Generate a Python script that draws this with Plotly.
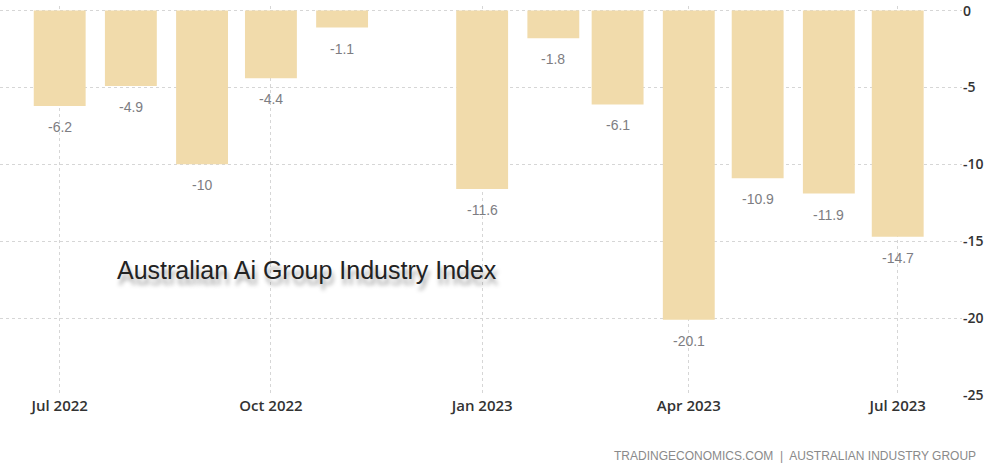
import plotly.graph_objects as go

months = ["2022-07-01", "2022-08-01", "2022-09-01", "2022-10-01", "2022-11-01",
          "2022-12-01", "2023-01-01", "2023-02-01", "2023-03-01", "2023-04-01",
          "2023-05-01", "2023-06-01", "2023-07-01"]
values = [-6.2, -4.9, -10, -4.4, -1.1, None, -11.6, -1.8, -6.1, -20.1, -10.9, -11.9, -14.7]
tick_dates = ["2022-07-01", "2022-10-01", "2023-01-01", "2023-04-01", "2023-07-01"]
tick_labels = ["Jul 2022", "Oct 2022", "Jan 2023", "Apr 2023", "Jul 2023"]
y_ticks = [0, -5, -10, -15, -20, -25]

DAY_MS = 86400000
fig = go.Figure()
fig.add_trace(go.Bar(
    x=months, y=values,
    marker=dict(color="#f1dbab", line=dict(width=0)),
    width=22.6 * DAY_MS,
    hoverinfo="x+y",
))

annotations = []
for m, v in zip(months, values):
    if v is None:
        continue
    annotations.append(dict(
        x=m, y=v, xref="x", yref="y", text=f"{v:g}", showarrow=False,
        yshift=-21, font=dict(family="Liberation Sans, Arial", size=14, color="#7d7d82"),
    ))

TOP = 6
PLOT_H = 473 - 78 - TOP
annotations.append(dict(
    x=307 / 962, y=1 - (270 - TOP) / PLOT_H, xref="paper", yref="paper",
    text="Australian Ai Group Industry Index", showarrow=False,
    xanchor="center", yanchor="middle",
    font=dict(family="Liberation Sans, Arial", size=25, color="#222222",
              shadow="2px 6px 4px rgba(0,0,0,0.35)"),
))
annotations.append(dict(
    x=978 / 962, y=-(456 - 395) / PLOT_H, xref="paper", yref="paper",
    text="TRADINGECONOMICS.COM  |  AUSTRALIAN INDUSTRY GROUP", showarrow=False,
    xanchor="right", yanchor="middle",
    font=dict(family="Liberation Sans, Arial", size=12, color="#8a8a8a"),
))

fig.update_layout(
    width=1004, height=473,
    margin=dict(l=0, r=42, t=TOP, b=78, autoexpand=False),
    paper_bgcolor="white", plot_bgcolor="white",
    showlegend=False,
    annotations=annotations,
    xaxis=dict(
        type="date", automargin=False,
        range=["2022-06-05", "2023-07-29"],
        tickvals=tick_dates, ticktext=tick_labels,
        showgrid=True, gridcolor="#d6d6d6", griddash="dot", gridwidth=1,
        showline=False, zeroline=False, ticks="",
        tickfont=dict(family="Open Sans", size=15, color="#333333", weight=600),
    ),
    yaxis=dict(
        side="right", range=[-25.0, 0.3], automargin=False,
        tickvals=y_ticks, ticktext=[str(t) for t in y_ticks],
        ticklabeloverflow="allow",
        showgrid=True, gridcolor="#d6d6d6", griddash="dot", gridwidth=1,
        zeroline=False, showline=False, ticks="",
        tickfont=dict(family="Open Sans", size=14, color="#333333", weight=600),
    ),
)

fig.write_html("out.html", config={"displayModeBar": False},
               post_script="document.body.style.margin='0';")
